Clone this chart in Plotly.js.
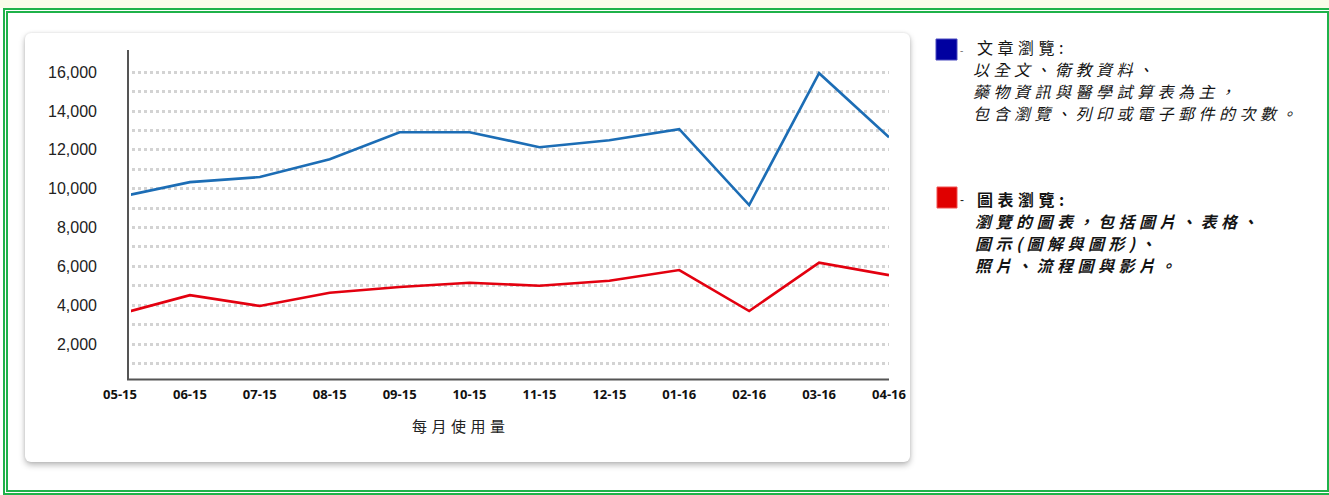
<!DOCTYPE html>
<html>
<head>
<meta charset="utf-8">
<script src="https://cdn.plot.ly/plotly-3.0.1.min.js"></script>
<style>
  html, body { margin:0; padding:0; background:#ffffff; }
  body { width:1329px; height:495px; position:relative; overflow:hidden; }
  #topstrip { position:absolute; left:0; top:0; width:1329px; height:8px; background:#fafce9; }
  #frame { position:absolute; left:3px; top:8px; width:1329px; height:487px; box-sizing:border-box; border:5px double #1fb24a; }
  #card { position:absolute; left:25px; top:33px; width:885px; height:429px; background:#ffffff; border-radius:6px;
          box-shadow: 0 3px 6px rgba(0,0,0,0.28), 0 0 3px rgba(0,0,0,0.10); }
  #chart { position:absolute; left:0; top:0; width:1329px; height:495px; }
  .annotation-text { letter-spacing: 4.5px; }
</style>
</head>
<body>
<div id="topstrip"></div>
<div id="frame"></div>
<div id="card"></div>
<div id="chart"></div>
<script>
// ---- data ----
const months = ['05-15','06-15','07-15','08-15','09-15','10-15','11-15','12-15','01-16','02-16','03-16','04-16'];
const articleViews = [9580, 10340, 10600, 11520, 12910, 12910, 12140, 12500, 13070, 9160, 15950, 12650];
const chartViews   = [3550, 4520, 3960, 4640, 4940, 5160, 5000, 5260, 5810, 3700, 6190, 5550];
const xTitle = '每月使用量';
const articleName = '文章瀏覽:';
const articleLines = ['以全文、衛教資料、', '藥物資訊與醫學試算表為主，', '包含瀏覽、列印或電子郵件的次數。'];
const chartName = '圖表瀏覽:';
const chartLines = ['瀏覽的圖表，包括圖片、表格、', '圖示(圖解與圖形)、', '照片、流程圖與影片。'];

// ---- geometry helpers (pixel -> paper) ----
const W = 1329, H = 495;
const L = 120, R = 889, T = 53, B = 379;
const px = x => (x - L) / (R - L);
const py = y => (B - y) / (B - T);

const blue = '#1c6db5', red = '#e3000f';
const gridStyle = { showgrid:true, gridcolor:'#d3d3d3', gridwidth:3, griddash:'3px,3px' };

const traces = [
  { x: months, y: articleViews, type:'scatter', mode:'lines', line:{color:blue, width:2.6}, name:articleName },
  { x: months, y: chartViews,   type:'scatter', mode:'lines', line:{color:red,  width:2.6}, name:chartName }
];

const shapes = [
  // cover the bit of plot area left of the visible y axis
  { type:'rect', xref:'paper', yref:'paper', x0:px(100), x1:px(131), y0:py(383), y1:py(45), fillcolor:'#ffffff', line:{width:0}, layer:'above' },
  // axis lines
  { type:'line', xref:'paper', yref:'paper', x0:px(128), x1:px(128), y0:py(380), y1:py(50), line:{color:'#555555', width:2}, layer:'above' },
  { type:'line', xref:'paper', yref:'paper', x0:px(127), x1:px(889), y0:py(379.5), y1:py(379.5), line:{color:'#555555', width:2}, layer:'above' },
  // legend swatches
  { type:'rect', xref:'paper', yref:'paper', x0:px(936), x1:px(957), y0:py(60), y1:py(39), fillcolor:'#0000a0', line:{color:'#4a4ac0', width:1} },
  { type:'rect', xref:'paper', yref:'paper', x0:px(937), x1:px(957), y0:py(208), y1:py(187), fillcolor:'#e00000', line:{color:'#f05050', width:1} }
];

const txt = '#141414';
const cjk = 'Noto Sans CJK TC, Noto Sans CJK SC, sans-serif';
const annotations = [
  { xref:'paper', yref:'paper', x:px(461), y:py(425), text:xTitle, showarrow:false, xanchor:'center', yanchor:'middle',
    font:{family:cjk, size:15, color:'#222'} },
  { xref:'paper', yref:'paper', x:px(964), y:py(50), text:'-', showarrow:false, xanchor:'center', yanchor:'middle',
    font:{family:'Liberation Sans', size:10, color:'#777'} },
  { xref:'paper', yref:'paper', x:px(964), y:py(200), text:'-', showarrow:false, xanchor:'center', yanchor:'middle',
    font:{family:'Liberation Sans', size:12, color:'#222'} },
  { xref:'paper', yref:'paper', x:px(975), y:py(47), text:articleName, showarrow:false, xanchor:'left', yanchor:'middle',
    font:{family:cjk, size:16, color:txt} },
  { xref:'paper', yref:'paper', x:px(975), y:py(199), text:'<b>' + chartName + '</b>', showarrow:false, xanchor:'left', yanchor:'middle',
    font:{family:cjk, size:16, color:txt} }
];
const blueY = [69, 91, 113];
articleLines.forEach((s, i) => annotations.push({
  xref:'paper', yref:'paper', x:px(971), y:py(blueY[i]), text:'<i>' + s + '</i>', showarrow:false,
  xanchor:'left', yanchor:'middle', font:{family:cjk, size:16, color:txt}
}));
const redY = [221, 243, 265];
chartLines.forEach((s, i) => annotations.push({
  xref:'paper', yref:'paper', x:px(973), y:py(redY[i]), text:'<b><i>' + s + '</i></b>', showarrow:false,
  xanchor:'left', yanchor:'middle', font:{family:cjk, size:16, color:txt}
}));

const layout = {
  width: W, height: H,
  margin: { l:L, r:W - R, t:T, b:H - B, pad:0 },
  paper_bgcolor:'rgba(0,0,0,0)', plot_bgcolor:'rgba(0,0,0,0)',
  showlegend:false,
  xaxis: {
    type:'category', range:[0, months.length - 1], showgrid:false, zeroline:false, showline:false, ticks:'',
    tickfont:{family:'Open Sans', size:13, color:'#111', weight:'bold'}, ticklabelstandoff:6, fixedrange:true
  },
  yaxis: Object.assign({
    range:[200, 16990], tick0:0, dtick:2000, tickformat:',d', zeroline:false, showline:false, ticks:'',
    tickfont:{family:'Liberation Sans, Arial', size:16, color:'#222'}, ticklabelstandoff:22, fixedrange:true,
    minor: Object.assign({ tick0:0, dtick:1000 }, gridStyle)
  }, gridStyle),
  shapes, annotations
};

Plotly.newPlot('chart', traces, layout, { staticPlot:true, displayModeBar:false });
</script>
</body>
</html>
